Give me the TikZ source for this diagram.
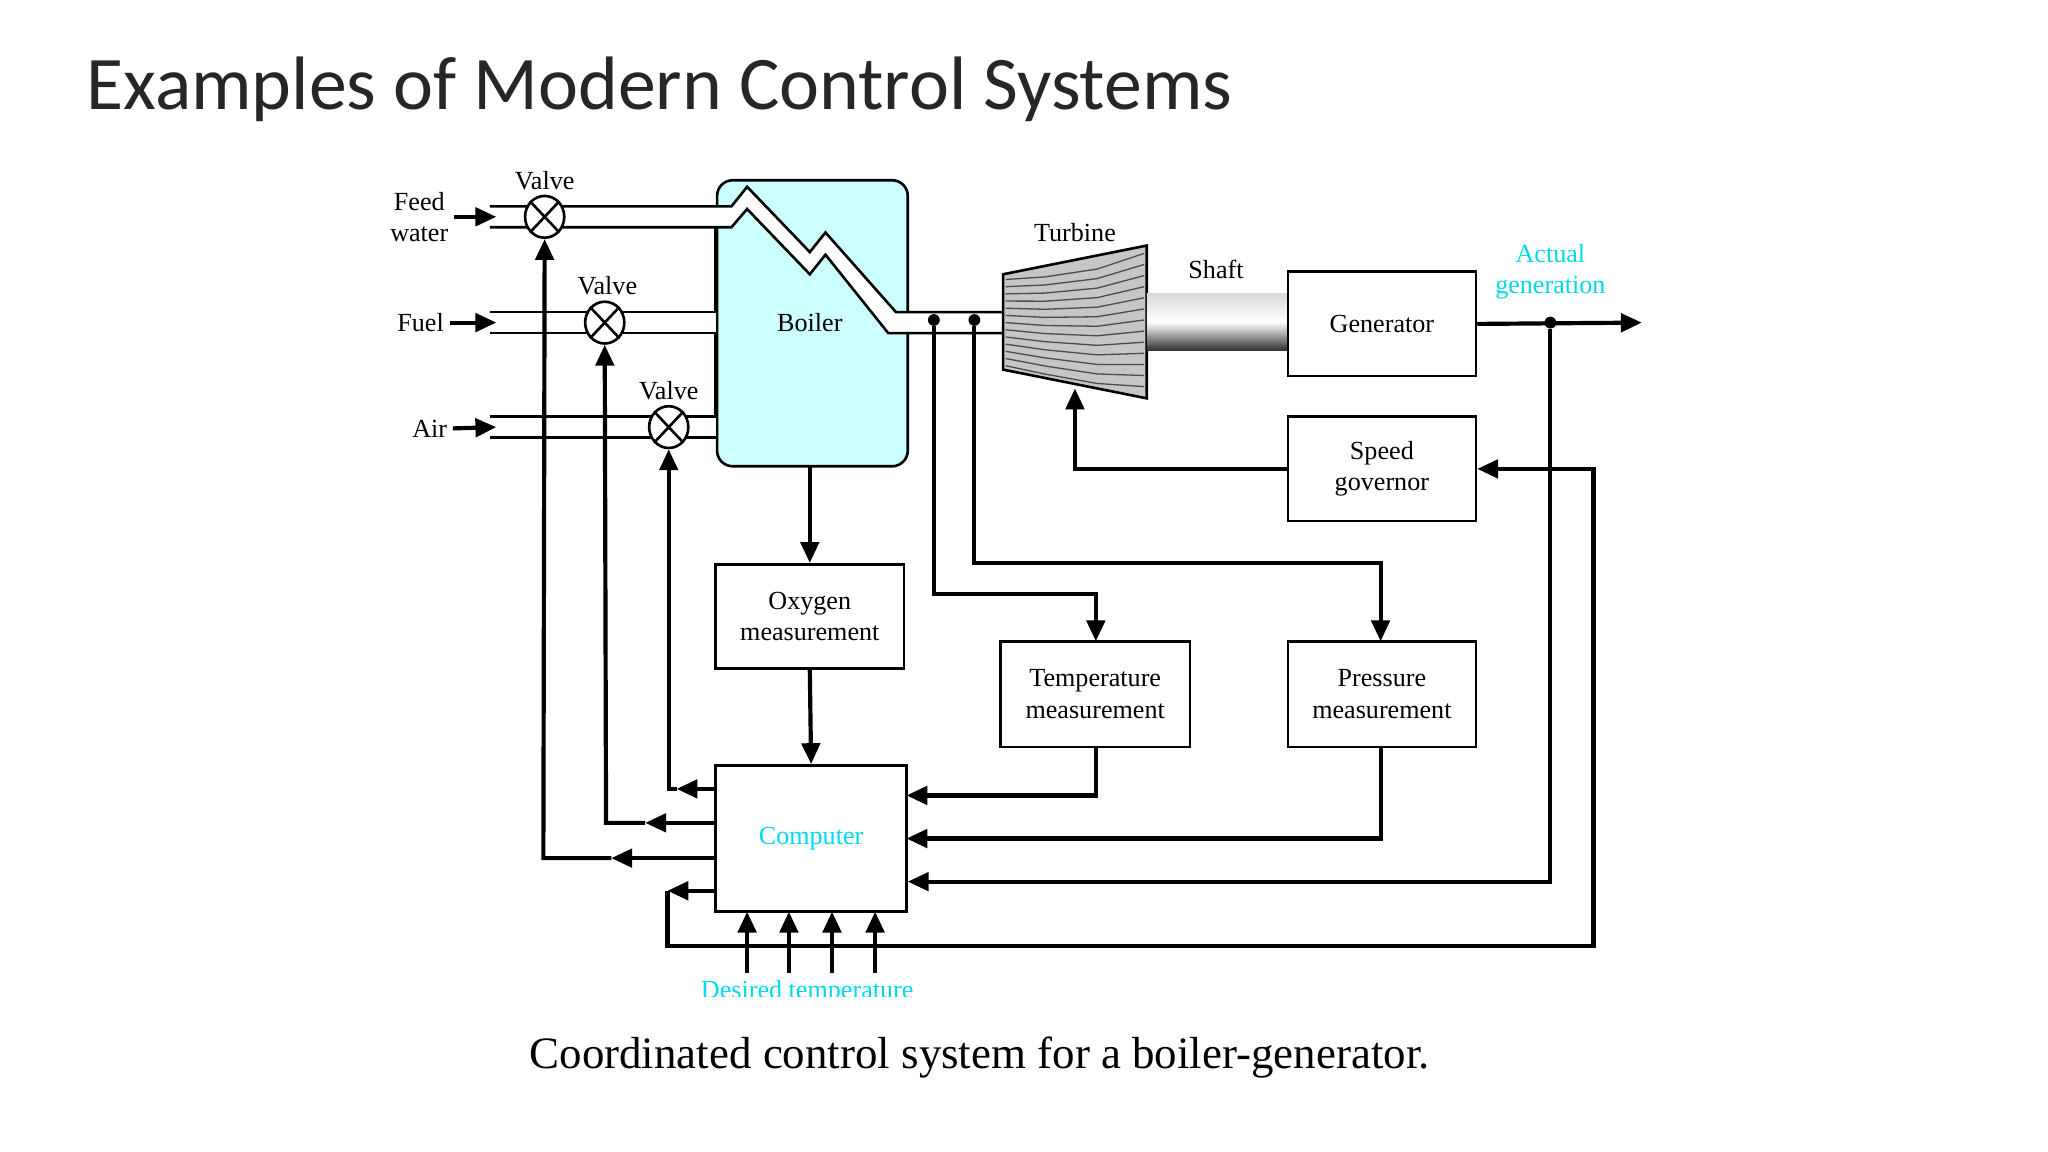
\documentclass[tikz,border=0pt]{standalone}
\usepackage{fontspec}
\setmainfont{Liberation Serif}
\newfontfamily\titlefont{Carlito}
\usetikzlibrary{arrows.meta,shapes.geometric}
\definecolor{boil}{HTML}{CCFFFF}
\definecolor{cy}{HTML}{00D8F0}
\begin{document}
\begin{tikzpicture}[x=0.5pt,y=-0.5pt,
  sig/.style={line width=1.6pt},
  arr/.style={sig,-{Triangle[length=8pt,width=7pt]}},
  pipe/.style={line width=1pt},
  box/.style={draw,line width=1pt,fill=white,align=center,font=\fontsize{10}{12}\selectfont,inner sep=0},
  lab/.style={font=\fontsize{10}{12}\selectfont,align=center,inner sep=0},
  valve/.style={draw,line width=1pt,fill=white,ellipse,minimum width=15pt,minimum height=16pt,inner sep=0},
  dot/.style={circle,fill,inner sep=1.6pt}]
\useasboundingbox (0,0) rectangle (1568,882);
\node[anchor=base west,inner sep=0,font=\titlefont\fontsize{29}{34}\selectfont,text=black!85] (title) at (66,84) {Examples of Modern Control Systems};
% boiler
\node[draw,line width=1pt,fill=boil,rounded corners=6pt,minimum width=73pt,minimum height=109.5pt,anchor=north west,inner sep=0] (boiler) at (548,137) {};
\node[lab] (blab) at (620,247) {Boiler};
% pipes
\fill[white] (375,158) rectangle (552,174);
\fill[white] (375,239) rectangle (548,255);
\fill[white] (375,319) rectangle (548,335);
\fill[white] (548,158)--(560,158)--(572,143)--(620,193)--(632,178)--(686,239)--(768,239)--(768,255)--(680,255)--(632,195)--(620,210)--(572,160)--(560,174)--(548,174)--cycle;
\draw[pipe] (375,158)--(560,158)--(572,143)--(620,193)--(632,178)--(686,239)--(768,239);
\draw[pipe] (375,174)--(560,174)--(572,160)--(620,210)--(632,195)--(680,255)--(768,255);
\draw[pipe] (375,239)--(548,239) (375,255)--(548,255);
\draw[pipe] (375,319)--(548,319) (375,335)--(548,335);
\draw[pipe] (548,174)--(548,239) (548,255)--(548,319);
% valves
\foreach \n/\x/\y in {v1/417/166,v2/463/247,v3/512/327}{
  \node[valve] (\n) at (\x,\y) {};
  \draw[pipe] (\n.north west)--(\n.south east) (\n.north east)--(\n.south west);
}
\node[lab] (vl1) at (417,138) {Valve};
\node[lab] (vl2) at (465,219) {Valve};
\node[lab] (vl3) at (512,299) {Valve};
% inputs
\node[lab] (feed) at (321,166) {Feed\\water};
\node[lab] (fuel) at (322,247) {Fuel};
\node[lab] (air) at (329,328) {Air};
\coordinate (f1) at (380,166); \coordinate (f2) at (380,247); \coordinate (f3) at (380,327);
\draw[arr] ([xshift=2pt]feed.east)--(f1);
\draw[arr] ([xshift=2pt]fuel.east)--(f2);
\draw[arr] ([xshift=2pt]air.east)--(f3);
% turbine
\node[lab] (tlab) at (823,178) {Turbine};
\fill[gray!45] (768,210)--(878,188)--(878,305)--(768,283)--cycle;
\foreach \i in {0,...,12}{
  \draw[black!70,line width=0.5pt] (770,{214+\i*5.5}) -- (800,{212+\i*6.2}) -- (840,{206+\i*7.3}) -- (876,{194+\i*8.5});
}
\draw[line width=1pt] (768,210)--(878,188)--(878,305)--(768,283)--cycle;
\node[inner sep=0] (turb) at (823,296) {};
% shaft
\shade[top color=gray!30,bottom color=black!80,middle color=white] (878,225) rectangle (986,268);
\node[lab] (slab) at (931,206) {Shaft};
% boxes
\node[box,minimum width=72pt,minimum height=40pt] (gen) at (1058,248) {Generator};
\node[box,minimum width=72pt,minimum height=40pt] (gov) at (1058,359) {Speed\\governor};
\node[box,minimum width=72pt,minimum height=40pt] (oxy) at (620,472) {Oxygen\\measurement};
\node[box,minimum width=72.5pt,minimum height=40.5pt] (temp) at (838.5,531.5) {Temperature\\measurement};
\node[box,minimum width=72pt,minimum height=40.5pt] (pres) at (1058,531.5) {Pressure\\measurement};
\node[box,minimum width=73pt,minimum height=56pt,text=cy] (comp) at (621,642) {Computer};
\node[lab,text=cy] (act) at (1187,208) {Actual\\generation};
% outputs
\coordinate (out) at (1257,247);
\draw[arr] (gen.east)--(out);
\node[dot] (d3) at (1187,247) {};
\draw[arr] (d3)--(1187,675)--(comp.east|-0,675);
\draw[arr] (620,356)--(oxy.north);
\draw[arr] (oxy.south)--(comp.north);
\node[dot] (d1) at (715,245) {};
\node[dot] (d2) at (746,245) {};
\draw[arr] (d1)--(715,455)--(839,455)--(839,491);
\draw[arr] (d2)--(746,431)--(1057,431)--(1057,491);
\draw[arr] (839,572)--(839,609)--(694,609);
\draw[arr] (1057,572)--(1057,642)--(694,642);
\draw[arr] (gov.west)--(823,359)--(turb);
% computer to valves
\draw[arr] (548,604)--(518,604);
\draw[arr] (518,604)--(512,604)--(v3.south);
\draw[arr] (548,630)--(494,630);
\draw[arr] (494,630)--(464,630)--(v2.south);
\draw[arr] (548,657)--(468,657);
\draw[arr] (468,657)--(416,657)--(v1.south);
\draw[arr] (548,682)--(511,682);
\draw[arr] (511,682)--(511,724)--(1220,724)--(1220,359)--(gov.east);
% desired
\foreach \x in {572,604,637,670}{\draw[arr] (\x,745)--(\x,698);}
\begin{scope}
\clip (500,748) rectangle (720,763);
\node[lab,text=cy,anchor=north] (des) at (618,750) {Desired temperature};
\end{scope}
\node[anchor=base,inner sep=0,font=\fontsize{17.2}{20}\selectfont] (cap) at (750,818) {Coordinated control system for a boiler-generator.};
\end{tikzpicture}
\end{document}
